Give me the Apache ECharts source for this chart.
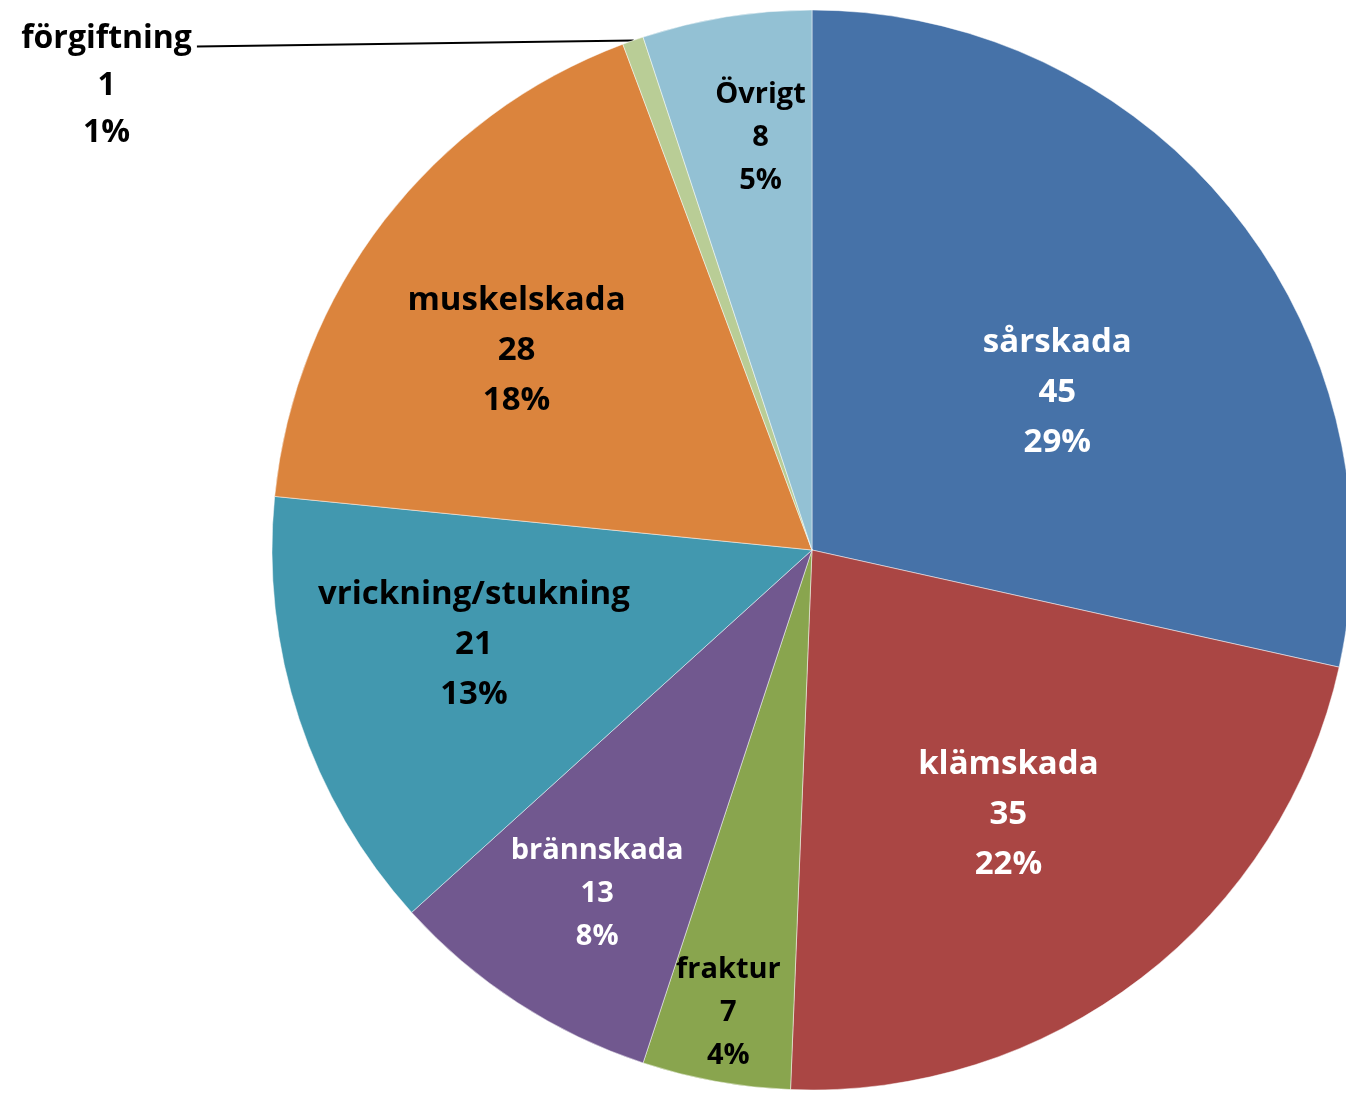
<!DOCTYPE html>
<html>
<head>
<meta charset="utf-8">
<script src="https://cdn.jsdelivr.net/npm/echarts@6/dist/echarts.min.js"></script>
<style>
  html, body { margin: 0; padding: 0; background: #fff; }
</style>
</head>
<body>
<div id="main" style="width: 1346px; height: 1094px; background: white"></div>
<script>
// skadetyper
var categories = ["sårskada", "klämskada", "fraktur", "brännskada", "vrickning/stukning", "muskelskada", "förgiftning", "Övrigt"];
var values = [45, 35, 7, 13, 21, 28, 1, 8];

// styles
var colors = ["#4672A8", "#AA4644", "#89A54E", "#71588F", "#4298AF", "#DB843D", "#B9CD96", "#93C1D4"];
var labelColors = ["#fff", "#fff", "#000", "#fff", "#000", "#000", "#000", "#000"];
var labelSizes = [33, 33, 29, 29, 33, 33, 32, 29];
var labelLineHeights = [50, 50, 43, 43, 50, 50, 47, 43];
// label placement: fraction of radius, angle nudge in degrees
var labelRadius = [0.54, 0.61, 0.87, 0.75, 0.65, 0.66, 0, 0.77];
var labelShift = [6, 1, 0, -1, 2.6, -3.6, 0, 2];

var cx = 812, cy = 550, R = 540;

var myChart = echarts.init(document.getElementById("main"));

var total = values.reduce(function (a, b) { return a + b; }, 0);
var midAngles = [];
var acc = 0;
for (var i = 0; i < values.length; i++) {
  midAngles.push(((acc + values[i] / 2) / total) * 360);
  acc += values[i];
}

var pieData = categories.map(function (name, i) {
  var outside = i === 6;
  return {
    name: name,
    value: values[i],
    itemStyle: { color: colors[i] },
    label: {
      position: outside ? "outside" : "inside",
      color: labelColors[i],
      fontSize: labelSizes[i],
      lineHeight: labelLineHeights[i],
    },
    labelLine: {
      show: outside,
      length: 0.01,
      length2: 436,
      lineStyle: { color: "#000", width: 2 },
    },
  };
});

var option = {
  backgroundColor: "#fff",
  animation: false,
  series: [
    {
      type: "pie",
      center: [cx, cy],
      radius: R,
      startAngle: 90,
      clockwise: true,
      avoidLabelOverlap: false,
      percentPrecision: 0,
      data: pieData,
      itemStyle: {
        borderColor: "rgba(255,255,255,0.6)",
        borderWidth: 0.8,
      },
      label: {
        show: true,
        formatter: "{b}\n{c}\n{d}%",
        fontFamily: "Open Sans",
        fontWeight: "bold",
        align: "center",
        distanceToLabelLine: 5,
      },
      labelLayout: function (params) {
        var i = params.dataIndex;
        if (i === 6) {
          var p = params.labelLinePoints;
          var end = p[p.length - 1];
          return {
            x: end[0] - 5 - params.labelRect.width / 2,
            y: end[1] - 25,
            align: "center",
            verticalAlign: "top",
            labelLinePoints: [p[0], p[1], [end[0], end[1] + 6]],
          };
        }
        var a = ((midAngles[i] + labelShift[i]) * Math.PI) / 180;
        return {
          x: cx + labelRadius[i] * R * Math.sin(a),
          y: cy - labelRadius[i] * R * Math.cos(a),
          align: "center",
          verticalAlign: "middle",
        };
      },
    },
  ],
};

myChart.setOption(option);
</script>
</body>
</html>
